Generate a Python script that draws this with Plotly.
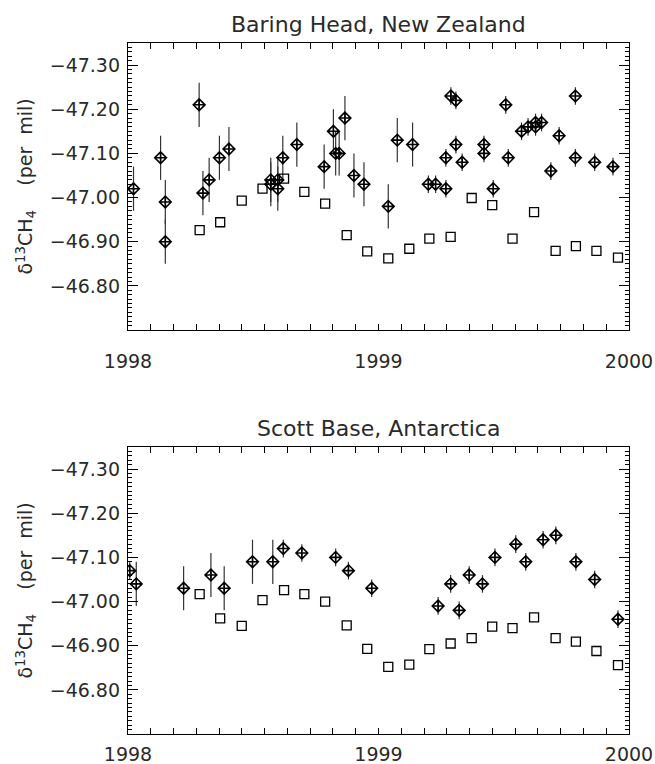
import plotly.graph_objects as go
from plotly.subplots import make_subplots

# ---------------- data ----------------
titles = ["Baring Head, New Zealand", "Scott Base, Antarctica"]
year_ticks = [1998, 1999, 2000]
year_labels = ["1998", "1999", "2000"]
y_ticks = [-47.30, -47.20, -47.10, -47.00, -46.90, -46.80]

bh_x = [1998.022, 1998.130, 1998.149, 1998.149, 1998.284, 1998.299, 1998.324, 1998.365, 1998.403,
        1998.570, 1998.570, 1998.598, 1998.598, 1998.618, 1998.674, 1998.783, 1998.820, 1998.829,
        1998.843, 1998.866, 1998.902, 1998.942, 1999.039, 1999.075, 1999.136, 1999.199, 1999.228,
        1999.269, 1999.269, 1999.289, 1999.309, 1999.309, 1999.334, 1999.421, 1999.421, 1999.458,
        1999.508, 1999.518, 1999.571, 1999.597, 1999.627, 1999.627, 1999.651, 1999.688, 1999.721,
        1999.786, 1999.786, 1999.863, 1999.936]
bh_y = [-47.02, -47.09, -46.99, -46.90, -47.21, -47.01, -47.04, -47.09, -47.11,
        -47.04, -47.03, -47.02, -47.04, -47.09, -47.12, -47.07, -47.15, -47.10,
        -47.10, -47.18, -47.05, -47.03, -46.98, -47.13, -47.12, -47.03, -47.03,
        -47.02, -47.09, -47.23, -47.22, -47.12, -47.08, -47.12, -47.10, -47.02,
        -47.21, -47.09, -47.15, -47.16, -47.17, -47.16, -47.17, -47.06, -47.14,
        -47.23, -47.09, -47.08, -47.07]
bh_err = [0.05] * 25 + [0.02] * 24

sb_x = [1998.007, 1998.033, 1998.222, 1998.331, 1998.384, 1998.497, 1998.578, 1998.620, 1998.694,
        1998.829, 1998.880, 1998.973, 1999.238, 1999.288, 1999.322, 1999.362, 1999.415, 1999.465,
        1999.548, 1999.588, 1999.657, 1999.708, 1999.788, 1999.863, 1999.956]
sb_y = [-47.07, -47.04, -47.03, -47.06, -47.03, -47.09, -47.09, -47.12, -47.11,
        -47.10, -47.07, -47.03, -46.99, -47.04, -46.98, -47.06, -47.04, -47.10,
        -47.13, -47.09, -47.14, -47.15, -47.09, -47.05, -46.96]
sb_err = [0.02] + [0.05] * 6 + [0.02] * 18

model_x = [1998.286, 1998.368, 1998.454, 1998.537, 1998.623, 1998.704, 1998.787, 1998.873,
           1998.955, 1999.039, 1999.123, 1999.203, 1999.288, 1999.372, 1999.454, 1999.535,
           1999.621, 1999.707, 1999.788, 1999.870, 1999.956]
bh_model = [-46.926, -46.944, -46.993, -47.020, -47.043, -47.013, -46.986, -46.915, -46.878,
            -46.862, -46.884, -46.907, -46.911, -46.999, -46.983, -46.907, -46.967, -46.879,
            -46.890, -46.879, -46.864]
sb_model = [-47.017, -46.962, -46.945, -47.003, -47.026, -47.017, -47.000, -46.946, -46.893,
            -46.852, -46.857, -46.892, -46.905, -46.917, -46.943, -46.940, -46.964, -46.917,
            -46.909, -46.888, -46.856]

# ---------------- figure ----------------
FONT = "DejaVu Sans"
TXT = "#2a2a2a"
Y_RANGE = [-46.70, -47.35]

# small tick positions (style only): every 0.01 on y, every 1/11 year on x
y_small_vals = [round(-47.35 + 0.01 * k, 2) for k in range(66)]
y_major_set = {round(v, 2) for v in y_ticks}
y_small_text = [("\u2212%.2f" % abs(v)) if round(v, 2) in y_major_set else "" for v in y_small_vals]
x_minor_vals = [1998 + k / 11 for k in range(23)]

fig = make_subplots(rows=2, cols=1, vertical_spacing=0.0)

panels = [(bh_x, bh_y, bh_err, bh_model), (sb_x, sb_y, sb_err, sb_model)]
for i, (px, py, pe, pm) in enumerate(panels, start=1):
    fig.add_trace(go.Scatter(
        x=px, y=py, mode="markers",
        error_y=dict(type="data", array=pe, visible=True, width=0, thickness=1.2, color="#333"),
        marker=dict(symbol="diamond-cross-open", size=9, color="black", line=dict(width=1.6, color="black")),
        showlegend=False), row=i, col=1)
    fig.add_trace(go.Scatter(
        x=model_x, y=pm, mode="markers",
        marker=dict(symbol="square-open", size=9, color="black", line=dict(width=1.3, color="black")),
        showlegend=False), row=i, col=1)

axis_common = dict(showline=True, linecolor="black", linewidth=1.3, mirror="allticks",
                   ticks="inside", tickcolor="black", showgrid=False, zeroline=False,
                   tickfont=dict(family=FONT, size=19, color=TXT))

x_standoff = {1: 14, 2: 3}
for i in (1, 2):
    fig.update_xaxes(range=[1998, 2000], tickmode="array", tickvals=year_ticks, ticktext=year_labels,
                     ticklen=6, tickwidth=1, automargin=False,
                     minor=dict(ticks="inside", ticklen=4, tickcolor="black", tickwidth=1,
                                tickmode="array", tickvals=x_minor_vals, showgrid=False),
                     ticklabelstandoff=x_standoff[i],
                     **axis_common, row=i, col=1)
    fig.update_yaxes(range=Y_RANGE, tickmode="array", tickvals=y_small_vals, ticktext=y_small_text,
                     ticklen=4, tickwidth=1, automargin=False,
                     ticklabelstandoff=3,
                     **axis_common, row=i, col=1)

H, W = 764, 655
mt, mb, ml, mr = 43, 30, 128, 26
ph = H - mt - mb
top_low = (H - mb - 330) / ph
bot_high = (H - mb - 447) / ph
fig.update_layout(yaxis=dict(domain=[top_low, 1.0]), yaxis2=dict(domain=[0.0, bot_high]))

# overlay axes carrying the long major y ticks
for k, (base, xa, dom) in enumerate([("y", "x", [top_low, 1.0]), ("y2", "x2", [0.0, bot_high])]):
    name = "yaxis%d" % (3 + k)
    fig.update_layout(**{name: dict(overlaying=base, anchor=xa, range=Y_RANGE, tickmode="array",
                                    tickvals=y_ticks, ticks="inside", ticklen=10, tickwidth=1,
                                    tickcolor="black", showticklabels=False, showline=True,
                                    linecolor="black", linewidth=1.3, mirror="allticks",
                                    showgrid=False, zeroline=False, automargin=False)})
    fig.add_trace(go.Scatter(x=[None], y=[None], xaxis=xa, yaxis="y%d" % (3 + k),
                             mode="markers", showlegend=False, hoverinfo="skip"))

annotations = []
for title, dom_top in zip(titles, [1.0, bot_high]):
    annotations.append(dict(text=title, xref="paper", yref="paper", x=0.5, y=dom_top,
                            xanchor="center", yanchor="bottom", yshift=4, showarrow=False,
                            font=dict(family=FONT, size=22, color=TXT)))
for dom in ([top_low, 1.0], [0.0, bot_high]):
    annotations.append(dict(text="δ<sup>13</sup>CH<sub>4</sub>\u00a0\u00a0\u00a0\u00a0(per\u00a0\u00a0mil)",
                            xref="paper", yref="paper", x=0, y=(dom[0] + dom[1]) / 2,
                            xanchor="center", yanchor="middle", xshift=-102, textangle=-90,
                            showarrow=False, font=dict(family=FONT, size=19, color=TXT)))

fig.update_layout(width=W, height=H, margin=dict(l=ml, r=mr, t=mt, b=mb),
                  paper_bgcolor="white", plot_bgcolor="white", annotations=annotations)

fig.write_html("out.html")
